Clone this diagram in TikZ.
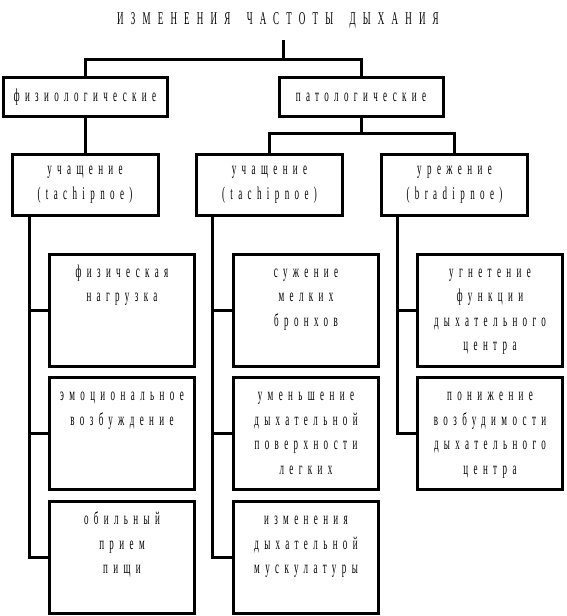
\documentclass[tikz,border=0pt]{standalone}
\usepackage{fontspec}
\setmainfont{Liberation Serif}[FakeStretch=0.5,LetterSpace=30]
\tikzset{
  box/.style={draw=black, line width=3pt, rectangle, inner sep=0pt, align=center},
  headbox/.style={box, minimum width=164pt, minimum height=39pt},
  kindbox/.style={box, minimum width=146pt, minimum height=61pt},
  leafbox/.style={box, minimum width=145pt, minimum height=112pt},
  link/.style={line width=3pt}
}
\newcommand\leaftext[1]{\parbox[c][112pt][t]{145pt}{\centering\rule{0pt}{23pt}#1}}
\begin{document}
\begin{tikzpicture}[x=1pt, y=-1pt, font=\fontsize{18}{24.5}\selectfont]
    \useasboundingbox (0,0) rectangle (566,616);
    %   Title and the two kinds of change
    \node[font=\fontsize{18}{24.5}\selectfont\addfontfeature{LetterSpace=40}] (title) at (278,20)
        {ИЗМЕНЕНИЯ\hspace{7pt} ЧАСТОТЫ\hspace{7pt} ДЫХАНИЯ};
    \node[headbox] (phys) at (85,97) {физиологические};
    \node[headbox] (pat) at (361,97) {патологические};
    \coordinate (top) at (283,40);
    \coordinate (split) at (283,59);
    \draw[link] (top) -- (split);
    \draw[link] (phys.north) |- (split) -| (pat.north);
    %   Second level
    \node[kindbox] (uchA) at (85,184.5) {учащение\\(tachipnoe)};
    \node[kindbox] (uchB) at (269.5,184.5) {учащение\\(tachipnoe)};
    \node[kindbox] (urezh) at (454.5,184.5) {урежение\\(bradipnoe)};
    \coordinate (patsplit) at (361,133);
    \draw[link] (phys.south) -- (uchA.north);
    \draw[link] (pat.south) -- (patsplit);
    \draw[link] (uchB.north) |- (patsplit) -| (urezh.north);
    %   Causes, one column under each box
    \node[leafbox] (a1) at (122,310) {\leaftext{физическая\\нагрузка}};
    \node[leafbox] (a2) at (122,433.5) {\leaftext{эмоциональное\\возбуждение}};
    \node[leafbox] (a3) at (122,557.5) {\leaftext{обильный\\прием\\пищи}};
    \node[leafbox] (b1) at (306,310) {\leaftext{сужение\\мелких\\бронхов}};
    \node[leafbox] (b2) at (306,433.5) {\leaftext{уменьшение\\дыхательной\\поверхности\\легких}};
    \node[leafbox] (b3) at (306,557.5) {\leaftext{изменения\\дыхательной\\мускулатуры}};
    \node[leafbox] (c1) at (490,310) {\leaftext{угнетение\\функции\\дыхательного\\центра}};
    \node[leafbox] (c2) at (490,433.5) {\leaftext{понижение\\возбудимости\\дыхательного\\центра}};
    %   Spines with their branches
    \coordinate (sA) at ([xshift=19pt]uchA.south west);
    \coordinate (sB) at ([xshift=17pt]uchB.south west);
    \coordinate (sC) at ([xshift=17pt]urezh.south west);
    \draw[link] (sA) |- (a3.west);
    \draw[link] (a1.west) -- (a1.west -| sA);
    \draw[link] (a2.west) -- (a2.west -| sA);
    \draw[link] (sB) |- (b3.west);
    \draw[link] (b1.west) -- (b1.west -| sB);
    \draw[link] (b2.west) -- (b2.west -| sB);
    \draw[link] (sC) |- (c2.west);
    \draw[link] (c1.west) -- (c1.west -| sC);
\end{tikzpicture}
\end{document}
